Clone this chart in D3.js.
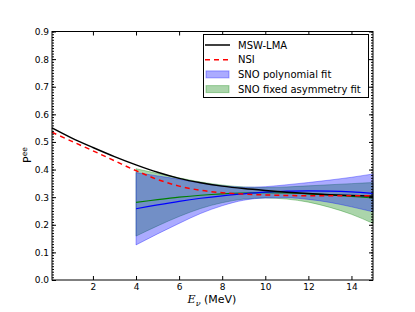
<!DOCTYPE html>
<html>
<head>
<meta charset="utf-8">
<script src="https://cdn.jsdelivr.net/npm/d3@7"></script>
<style>
  body { margin: 0; background: #ffffff; }
  svg { display: block; }
</style>
</head>
<body>
<div id="paper"></div>
<script>

// data

const energy = [0.1, 1, 2, 3, 4, 5, 6, 7, 8, 9, 10, 11, 12, 13, 14, 15]
const mswLma = [0.551, 0.515, 0.480, 0.447, 0.417, 0.390, 0.368, 0.352, 0.340, 0.331, 0.324, 0.318, 0.313, 0.309, 0.306, 0.303]
const nsi    = [0.535, 0.503, 0.468, 0.432, 0.396, 0.364, 0.340, 0.325, 0.316, 0.311, 0.308, 0.306, 0.305, 0.305, 0.305, 0.305]

const snoEnergy = [4, 5, 6, 7, 8, 9, 10, 11, 12, 13, 14, 15]
const polyFit  = [0.258, 0.272, 0.285, 0.296, 0.305, 0.312, 0.318, 0.322, 0.323, 0.322, 0.319, 0.314]
const polyLo   = [0.127, 0.167, 0.205, 0.241, 0.269, 0.289, 0.297, 0.298, 0.292, 0.281, 0.265, 0.247]
const polyHi   = [0.389, 0.377, 0.365, 0.351, 0.341, 0.336, 0.338, 0.345, 0.353, 0.362, 0.372, 0.384]
const fixedFit = [0.281, 0.291, 0.300, 0.307, 0.312, 0.315, 0.316, 0.315, 0.312, 0.308, 0.303, 0.297]
const fixedLo  = [0.159, 0.196, 0.230, 0.259, 0.280, 0.293, 0.297, 0.293, 0.282, 0.263, 0.238, 0.205]
const fixedHi  = [0.403, 0.386, 0.370, 0.355, 0.344, 0.337, 0.335, 0.337, 0.341, 0.345, 0.349, 0.353]

const xTicks = [2, 4, 6, 8, 10, 12, 14]
const yTicks = [0, 0.1, 0.2, 0.3, 0.4, 0.5, 0.6, 0.7, 0.8, 0.9]

const legendItems = [
    {label: 'MSW-LMA', kind: 'line', color: '#000000', dash: null},
    {label: 'NSI', kind: 'line', color: '#ff0000', dash: '5,4'},
    {label: 'SNO polynomial fit', kind: 'patch', color: '#0000ff'},
    {label: 'SNO fixed asymmetry fit', kind: 'patch', color: '#008000'}
]

// layout

const W = 415, H = 312
const plotL = 52, plotT = 31.5, plotR = 373, plotB = 280
const font = "DejaVu Sans"

const svg = d3.select("#paper")
    .append("svg")
    .attr("id", "canvas")
    .attr("width", W)
    .attr("height", H)

const x = d3.scaleLinear().domain([0.1, 15]).range([plotL, plotR])
const y = d3.scaleLinear().domain([0, 0.9]).range([plotB, plotT])

// bands, green first then blue on top

function band(xs, lo, hi, color) {
    const area = d3.area()
        .x((d, i) => x(xs[i]))
        .y0((d, i) => y(lo[i]))
        .y1((d, i) => y(hi[i]))
        .curve(d3.curveMonotoneX)
    svg.append('path')
        .attr('d', area(xs))
        .style('fill', color)
        .style('fill-opacity', 0.33)
        .style('stroke', color)
        .style('stroke-opacity', 0.33)
        .style('stroke-width', 1)
}

band(snoEnergy, fixedLo, fixedHi, '#008000')
band(snoEnergy, polyLo, polyHi, '#0000ff')

// lines

function curveLine(xs, ys, color, width, dash) {
    const line = d3.line()
        .x((d, i) => x(xs[i]))
        .y((d, i) => y(ys[i]))
        .curve(d3.curveCatmullRom)
    svg.append('path')
        .attr('d', line(xs))
        .style('fill', 'none')
        .style('stroke', color)
        .style('stroke-width', width)
        .style('stroke-dasharray', dash)
}

curveLine(snoEnergy, fixedFit, '#008000', 1.2, null)
curveLine(snoEnergy, polyFit, '#0000ff', 1.2, null)
curveLine(energy, mswLma, '#000000', 1.5, null)
curveLine(energy, nsi, '#ff0000', 1.5, '5,4')

// axes, ticks point inward like matplotlib

function styleAxis(g) {
    g.select('.domain').remove()
    g.selectAll('line').attr('stroke', '#000')
    g.selectAll('text')
        .attr('font-family', font)
        .attr('font-size', '9px')
        .attr('fill', '#000')
}

svg.append('g')
    .attr('transform', `translate(0,${plotB})`)
    .call(d3.axisBottom(x).tickValues(xTicks).tickFormat(d3.format('d')).tickSizeInner(-4).tickSizeOuter(0).tickPadding(4))
    .call(styleAxis)

svg.append('g')
    .attr('transform', `translate(0,${plotT})`)
    .call(d3.axisTop(x).tickValues(xTicks).tickFormat('').tickSizeInner(-4).tickSizeOuter(0))
    .call(styleAxis)

svg.append('g')
    .attr('transform', `translate(${plotL},0)`)
    .call(d3.axisLeft(y).tickValues(yTicks).tickFormat(d3.format('.1f')).tickSizeInner(-4).tickSizeOuter(0).tickPadding(3))
    .call(styleAxis)

svg.append('g')
    .attr('transform', `translate(${plotR},0)`)
    .call(d3.axisRight(y).tickValues(yTicks).tickFormat('').tickSizeInner(-4).tickSizeOuter(0))
    .call(styleAxis)

// minor ticks on y, every 0.01
const minor = d3.range(0, 91).map(d => d / 100)

svg.append('g')
    .attr('transform', `translate(${plotL},0)`)
    .call(d3.axisLeft(y).tickValues(minor).tickFormat('').tickSizeInner(-2).tickSizeOuter(0))
    .call(styleAxis)

svg.append('g')
    .attr('transform', `translate(${plotR},0)`)
    .call(d3.axisRight(y).tickValues(minor).tickFormat('').tickSizeInner(-2).tickSizeOuter(0))
    .call(styleAxis)

// frame
svg.append('rect')
    .attr('x', plotL)
    .attr('y', plotT)
    .attr('width', plotR - plotL)
    .attr('height', plotB - plotT)
    .style('fill', 'none')
    .style('stroke', '#000')
    .style('stroke-width', 1)

// axis labels

const xlab = svg.append('text')
    .attr('x', 212)
    .attr('y', 303)
    .attr('text-anchor', 'middle')
    .attr('font-family', font)
    .attr('font-size', '11px')
xlab.append('tspan').attr('font-family', 'DejaVu Serif').attr('font-style', 'italic').text('E')
xlab.append('tspan').attr('font-family', 'DejaVu Serif').attr('font-style', 'italic').attr('font-size', '8px').attr('dy', 2.5).text('ν')
xlab.append('tspan').attr('dy', -2.5).text(' (MeV)')

const ylab = svg.append('text')
    .attr('transform', 'translate(31,155) rotate(-90)')
    .attr('text-anchor', 'middle')
    .attr('font-family', font)
    .attr('font-size', '11px')
ylab.append('tspan').text('P')
ylab.append('tspan').attr('font-size', '7.5px').attr('dy', -4).text('ee')

// legend

const lg = svg.append('g')

lg.append('rect')
    .attr('x', 203.5)
    .attr('y', 34.5)
    .attr('width', 165)
    .attr('height', 63)
    .style('fill', '#fff')
    .style('stroke', '#000')
    .style('stroke-width', 1)

legendItems.forEach((d, i) => {
    const cy = 45 + i * 14.7
    if (d.kind == 'line') {
        lg.append('line')
            .attr('x1', 205).attr('x2', 230)
            .attr('y1', cy).attr('y2', cy)
            .style('stroke', d.color)
            .style('stroke-width', 1.5)
            .style('stroke-dasharray', d.dash)
    } else {
        lg.append('rect')
            .attr('x', 206).attr('y', cy - 3.5)
            .attr('width', 23).attr('height', 7)
            .style('fill', d.color)
            .style('fill-opacity', 0.33)
            .style('stroke', d.color)
            .style('stroke-opacity', 0.33)
    }
    lg.append('text')
        .attr('x', 238)
        .attr('y', cy)
        .attr('dy', '0.35em')
        .attr('font-family', font)
        .attr('font-size', '10px')
        .text(d.label)
})

</script>
</body>
</html>
